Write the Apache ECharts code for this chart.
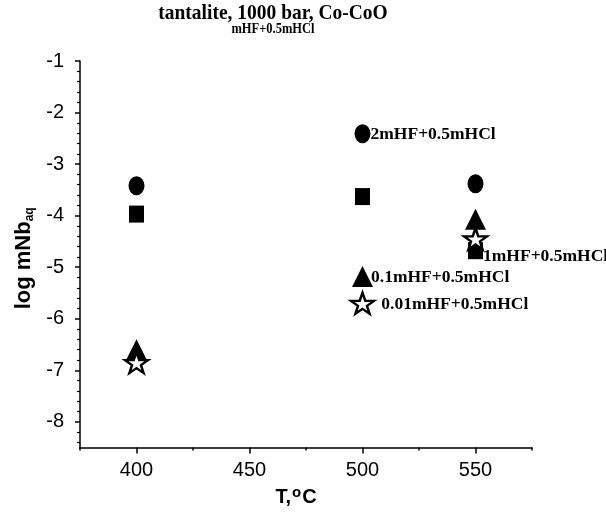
<!DOCTYPE html>
<html><head><meta charset="utf-8">
<script src="https://cdn.jsdelivr.net/npm/echarts@6/dist/echarts.min.js"></script>
<style>html,body{margin:0;padding:0;background:#fff}#c{width:606px;height:512px}</style>
</head><body><div id="c"></div>
<script>
// ---- data ----
const temperatures = [400, 500, 550];
const hf2   = [-3.42, -2.41, -3.38];   // circles
const hf1   = [-3.97, -3.63, -4.68];   // squares
const hf01  = [-6.60, -5.18, -4.07];   // triangles
const hf001 = [-6.85, -5.70, -4.45];   // stars
const seriesNames = ['2mHF+0.5mHCl', '1mHF+0.5mHCl', '0.1mHF+0.5mHCl', '0.01mHF+0.5mHCl'];
const labelIndex = [1, 2, 1, 1]; // which point carries the series label
const xTickLabels = [400, 450, 500, 550];
const xMinorTicks = [375, 425, 475, 525, 575];
const yTickLabels = [-8, -7, -6, -5, -4, -3, -2, -1];
const titleText = 'tantalite, 1000 bar, Co-CoO';
const subtitleText = 'mHF+0.5mHCl';

// minor y ticks every 0.2 between integers
const yMinorTicks = [];
for (let k = -9; k <= -1; k++) {
  for (let j = 1; j <= 4; j++) {
    const v = +(k + 0.2 * j).toFixed(1);
    if (v >= -8.5 && v <= -1) yMinorTicks.push(v);
  }
}

const SERIF = '"Liberation Serif", "Times New Roman", serif';
const SANS = '"Liberation Sans", Arial, sans-serif';
const starPath = 'path://M50,0 L61.8,35.1 L98.1,35.1 L68.8,56.8 L79.4,90.9 L50,69.6 L20.6,90.9 L31.2,56.8 L1.9,35.1 L38.2,35.1 Z';

const styles = [
  { symbol: 'circle', symbolSize: [16, 19], itemStyle: { color: '#000', opacity: 1 }, labelOffset: [-1, 1], dist: 1 },
  { symbol: 'rect', symbolSize: [15, 17], itemStyle: { color: '#000', opacity: 1 }, labelOffset: [-1, 6], dist: 1 },
  { symbol: 'triangle', symbolSize: [21, 21], itemStyle: { color: '#000', opacity: 1 }, labelOffset: [-2, 1], dist: 0 },
  { symbol: starPath, symbolSize: [23, 21], itemStyle: { color: '#fff', borderColor: '#000', borderWidth: 2.4, opacity: 1 }, labelOffset: [0, 1], dist: 6 }
];
const values = [hf2, hf1, hf01, hf001];

const series = values.map((vals, si) => ({
  name: seriesNames[si],
  type: 'scatter',
  xAxisIndex: 0, yAxisIndex: 0,
  symbol: styles[si].symbol,
  symbolSize: styles[si].symbolSize,
  itemStyle: styles[si].itemStyle,
  emphasis: { disabled: true },
  z: 2 + si,
  data: temperatures.map((t, i) => {
    const item = { value: [t, vals[i]] };
    if (i === labelIndex[si]) {
      item.label = {
        show: true, position: 'right', distance: styles[si].dist,
        offset: styles[si].labelOffset,
        formatter: seriesNames[si],
        fontFamily: SERIF, fontWeight: 'bold', fontSize: 17.5, color: '#000'
      };
    }
    return item;
  })
}));

const chart = echarts.init(document.getElementById('c'), null, { renderer: 'canvas' });
chart.setOption({
  backgroundColor: '#fff',
  animation: false,
  graphic: [
    { type: 'text', x: 273, y: 13, scaleY: 1.12, style: { text: titleText, textAlign: 'center', textVerticalAlign: 'middle', font: 'bold 19.5px ' + SERIF, fill: '#000' } },
    { type: 'text', x: 273, y: 29.5, scaleY: 1.2, style: { text: subtitleText, textAlign: 'center', textVerticalAlign: 'middle', font: 'bold 12.5px ' + SERIF, fill: '#000' } }
  ],
  grid: { left: 80, right: 74, top: 61, bottom: 62 },
  xAxis: [
    {
      type: 'value', min: 375, max: 575,
      splitLine: { show: false },
      axisLine: { show: true, lineStyle: { color: '#000', width: 1.5 } },
      axisTick: { show: true, customValues: xTickLabels, length: 6, lineStyle: { color: '#000', width: 1.5 } },
      axisLabel: { customValues: xTickLabels, margin: 13, fontFamily: SANS, fontSize: 20, color: '#000' },
      name: '{a|T,}{s|o}{a|C}', nameLocation: 'middle', nameGap: 33,
      nameTextStyle: {
        padding: [0, 20, 0, 0],
        rich: {
          a: { fontFamily: SANS, fontWeight: 'bold', fontSize: 20, color: '#000' },
          s: { fontFamily: SANS, fontWeight: 'bold', fontSize: 15, color: '#000', verticalAlign: 'top', padding: [0, 1, 8, 1] }
        }
      }
    },
    {
      type: 'value', min: 375, max: 575, position: 'bottom',
      splitLine: { show: false },
      axisLine: { show: false },
      axisTick: { show: true, customValues: xMinorTicks, length: 3, lineStyle: { color: '#000', width: 1.5 } },
      axisLabel: { show: false }
    }
  ],
  yAxis: [
    {
      type: 'value', min: -8.5, max: -1,
      splitLine: { show: false },
      axisLine: { show: true, lineStyle: { color: '#000', width: 1.5 } },
      axisTick: { show: true, customValues: yTickLabels, length: 5, lineStyle: { color: '#000', width: 1.5 } },
      axisLabel: { customValues: yTickLabels, margin: 16, fontFamily: SANS, fontSize: 20, color: '#000' },
      name: '{a|log mNb}{s|aq}', nameLocation: 'middle', nameGap: 42, nameRotate: 90,
      nameTextStyle: {
        padding: [0, 8, 0, 0],
        rich: {
          a: { fontFamily: SANS, fontWeight: 'bold', fontSize: 22, color: '#000' },
          s: { fontFamily: SANS, fontWeight: 'bold', fontSize: 12, color: '#000', verticalAlign: 'bottom', padding: [8, 0, 0, 0] }
        }
      }
    },
    {
      type: 'value', min: -8.5, max: -1, position: 'left',
      splitLine: { show: false },
      axisLine: { show: false },
      axisTick: { show: true, customValues: yMinorTicks, length: 3, lineStyle: { color: '#000', width: 1.2 } },
      axisLabel: { show: false }
    }
  ],
  series: series
});
</script>
</body></html>
